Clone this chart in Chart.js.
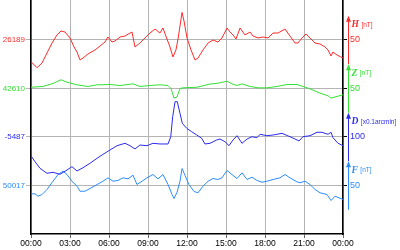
<!DOCTYPE html>
<html lang="en">
<head>
<meta charset="UTF-8">
<title>Geomagnetic variation H Z D F</title>
<script src="https://cdn.jsdelivr.net/npm/chart.js"></script>
<style>
    body { margin: 0; background: #fff; }
    canvas { display: block; }
</style>
</head>
<body>
<canvas id="magChart" width="400" height="250"></canvas>
<script>
// hours since 00:00 and readings for each component
const hTimes = [0,0.46,0.85,1.23,1.62,2.0,2.31,2.62,3.0,3.31,3.54,3.77,4.0,4.38,4.92,5.31,5.69,5.92,6.23,6.46,6.85,7.23,7.62,7.77,8.0,8.38,8.77,9.15,9.54,9.92,10.15,10.46,10.69,10.92,11.15,11.31,11.62,11.77,12.0,12.31,12.62,12.85,13.23,13.62,14.0,14.38,14.69,15.08,15.31,15.54,15.77,16.08,16.46,16.85,17.08,17.46,17.85,18.23,18.62,19.0,19.54,19.92,20.31,20.54,20.85,21.15,21.46,21.85,22.23,22.62,22.85,23.08,23.23,23.54,24.0];
const hValues = [26166.6,26160.4,26165.3,26175.6,26185.9,26194.2,26198.3,26197.2,26191.1,26181.8,26176.6,26168.4,26170.4,26174.6,26178.7,26182.8,26186.9,26192.1,26186.9,26188.0,26192.1,26193.1,26196.2,26197.2,26181.8,26185.9,26191.1,26196.2,26200.3,26196.2,26201.4,26190.0,26181.8,26171.5,26178.7,26190.0,26217.4,26208.6,26191.1,26178.7,26168.4,26170.4,26178.7,26185.9,26189.0,26186.9,26191.1,26201.4,26197.2,26194.2,26190.0,26201.4,26194.2,26197.2,26193.1,26191.1,26192.1,26191.1,26196.2,26196.2,26200.3,26193.1,26185.9,26185.9,26191.1,26195.2,26191.1,26185.9,26184.9,26181.8,26178.7,26172.5,26176.6,26173.5,26170.4];

const zTimes = [0,0.92,1.69,2.31,2.77,3.54,4.38,5.08,6.08,6.85,7.85,8.38,9.15,9.92,10.54,10.77,11.0,11.23,11.46,11.69,12.23,12.77,13.31,13.77,14.38,15.08,15.46,15.85,16.23,16.85,17.46,18.15,18.92,19.69,20.46,20.92,21.46,22.23,22.85,23.08,23.23,24.0];
const zValues = [42611.3,42612.1,42615.2,42619.0,42616.5,42613.8,42612.1,42613.8,42614.1,42613.1,42614.8,42612.1,42613.1,42613.8,42613.1,42610.0,42600.2,42601.2,42610.0,42610.7,42611.0,42611.3,42613.1,42614.6,42615.5,42617.5,42614.8,42613.1,42614.8,42612.1,42610.7,42610.7,42612.1,42614.1,42614.1,42612.1,42609.7,42605.2,42602.5,42600.0,42600.7,42603.5];

const dTimes = [0,0.31,0.69,1.23,1.69,2.23,2.77,3.15,3.54,4.0,4.54,5.08,5.54,6.08,6.62,7.23,7.62,8.0,8.38,8.92,9.38,9.92,10.54,10.75,10.9,11.08,11.25,11.46,11.64,11.98,12.36,12.75,13.13,13.38,13.77,14.28,14.54,14.92,15.23,15.54,15.85,16.23,16.62,17.0,17.38,17.62,18.15,18.62,19.31,19.92,20.31,20.62,20.92,21.46,22.0,22.38,22.85,23.08,23.23,23.62,24.0];
const dValues = [-5525.6,-5537.9,-5551.5,-5561.9,-5559.8,-5563.9,-5555.0,-5548.2,-5557.1,-5550.3,-5541.2,-5530.9,-5522.7,-5513.8,-5504.9,-5500.0,-5504.9,-5511.7,-5503.5,-5504.9,-5500.0,-5501.4,-5501.4,-5486.4,-5445.1,-5414.2,-5414.2,-5438.1,-5458.8,-5469.1,-5476.1,-5482.9,-5489.7,-5501.4,-5500.0,-5493.2,-5491.1,-5496.7,-5504.9,-5493.2,-5484.3,-5500.0,-5491.1,-5486.4,-5488.4,-5481.4,-5484.3,-5482.9,-5479.4,-5486.4,-5491.1,-5495.2,-5486.4,-5484.3,-5477.3,-5477.3,-5481.4,-5477.3,-5488.4,-5500.0,-5504.9];

const fTimes = [0,0.31,0.54,0.85,1.23,1.69,2.08,2.46,2.77,3.15,3.54,3.77,4.15,4.54,5.08,5.54,5.92,6.31,6.69,7.08,7.46,7.85,8.15,8.54,8.92,9.38,9.77,10.15,10.54,10.85,11.0,11.23,11.46,11.62,11.85,12.15,12.54,12.85,13.23,13.62,14.0,14.38,14.69,15.08,15.46,15.85,16.23,16.62,17.0,17.38,17.77,18.15,18.62,19.15,19.54,19.92,20.46,20.69,21.08,21.46,21.85,22.23,22.77,23.08,23.38,24.0];
const fValues = [50008.4,50008.4,50006.0,50007.7,50012.9,50021.4,50028.3,50031.7,50028.3,50021.4,50016.3,50011.1,50011.1,50013.9,50018.0,50021.4,50024.9,50021.4,50022.2,50024.9,50023.9,50027.6,50018.0,50021.4,50024.9,50028.3,50023.9,50028.3,50018.0,50007.7,50003.6,50009.8,50021.4,50034.5,50027.3,50018.0,50010.8,50009.5,50016.3,50021.4,50024.2,50023.2,50024.9,50032.5,50028.3,50024.2,50030.1,50023.2,50025.6,50022.2,50020.4,50021.4,50023.2,50024.9,50028.3,50024.9,50020.8,50019.8,50021.4,50018.0,50012.9,50009.5,50007.7,50001.5,50006.0,50002.6];

// order: H, Z, D, F (top to bottom)
const components = ['H', 'Z', 'D', 'F'];
const baseValues = [26189, 42610, -5487, 50017];
const scaleSteps = [50, 50, 100, 50];
const unitLabels = ['[nT]', '[nT]', '[x0.1arcmin]', '[nT]'];
const xTickLabels = ['00:00','03:00','06:00','09:00','12:00','15:00','18:00','21:00','00:00'];

const colors = ['#ff2a2a', '#33e033', '#2b2bf0', '#2a8cff'];
const SLOT_MAX = 234 / 48.5;   // grid rows in plot height
const FONT = '"Liberation Sans", Arial, sans-serif';

function slotOf(i) { return 4 - i; }

function pairs(ts, vs) {
    return ts.map((t, i) => ({ x: t, y: vs[i] }));
}

const series = [pairs(hTimes, hValues), pairs(zTimes, zValues), pairs(dTimes, dValues), pairs(fTimes, fValues)];

const scales = {
    x: {
        type: 'linear', min: 0, max: 24,
        afterBuildTicks: s => { s.ticks = xTickLabels.map((_, i) => ({ value: i * 3 })); },
        afterFit: s => { s.height = 16; s.paddingLeft = 0; s.paddingRight = 0; },
        ticks: {
            callback: (v, i) => xTickLabels[i],
            color: '#000', font: { family: FONT, size: 8.5 }, padding: 1, maxRotation: 0, autoSkip: false
        },
        grid: { color: '#b4b4b4', lineWidth: 1, tickLength: 4, tickColor: '#666' },
        border: { color: '#000', width: 1.5 }
    },
    y: {
        position: 'left', min: 0, max: SLOT_MAX,
        afterBuildTicks: s => { s.ticks = [1, 2, 3, 4].map(v => ({ value: v })); },
        afterFit: s => { s.width = 31; s.paddingTop = 0; s.paddingBottom = 0; },
        ticks: {
            callback: v => String(baseValues[4 - v]),
            color: c => colors[4 - c.tick.value],
            font: { family: FONT, size: 8 }, padding: 1
        },
        grid: { color: '#b4b4b4', lineWidth: 1, tickLength: 5 },
        border: { color: '#000', width: 1.5 }
    },
    yr: {
        position: 'right', min: 0, max: SLOT_MAX,
        afterBuildTicks: s => { s.ticks = [1, 2, 3, 4].map(v => ({ value: v })); },
        afterFit: s => { s.width = 57; s.paddingTop = 0; s.paddingBottom = 0; },
        ticks: {
            callback: v => String(scaleSteps[4 - v]),
            color: c => colors[4 - c.tick.value],
            font: { family: FONT, size: 9 }, padding: 3
        },
        grid: { drawOnChartArea: false, tickLength: 4, color: '#000' },
        border: { color: '#000', width: 1.5 }
    }
};

// one hidden axis per component so each trace keeps its own units
components.forEach((c, i) => {
    const min = baseValues[i] - slotOf(i) * scaleSteps[i];
    scales['y' + c] = { display: false, min: min, max: min + SLOT_MAX * scaleSteps[i] };
});

const sideLabels = {
    id: 'sideLabels',
    afterDraw(chart) {
        const c = chart.ctx;
        const ys = chart.scales.y;
        const x0 = chart.chartArea.right + 5.5;
        const half = (ys.getPixelForValue(0) - ys.getPixelForValue(1)) / 2;
        components.forEach((name, i) => {
            const yc = ys.getPixelForValue(slotOf(i));
            c.save();
            c.strokeStyle = colors[i];
            c.fillStyle = colors[i];
            c.lineWidth = 1;
            c.beginPath();
            c.moveTo(x0, yc + half);
            c.lineTo(x0, yc - half + 3);
            c.stroke();
            c.beginPath();
            c.moveTo(x0, yc - half);
            c.lineTo(x0 - 2.5, yc - half + 6);
            c.lineTo(x0 + 2.5, yc - half + 6);
            c.closePath();
            c.fill();
            c.textBaseline = 'middle';
            c.font = 'bold italic 9.5px "Liberation Serif", serif';
            c.fillText(name, x0 + 3, yc - 15);
            const w = c.measureText(name).width;
            c.font = '6.5px ' + FONT;
            c.fillText(unitLabels[i], x0 + 4 + w + 1.5, yc - 15);
            c.restore();
        });
    }
};

new Chart(document.getElementById('magChart'), {
    type: 'line',
    data: {
        datasets: components.map((c, i) => ({
            label: c,
            data: series[i],
            yAxisID: 'y' + c,
            borderColor: colors[i],
            borderWidth: 1,
            pointRadius: 0,
            tension: 0,
            fill: false
        }))
    },
    options: {
        responsive: false,
        animation: false,
        layout: { padding: 0 },
        plugins: { legend: { display: false }, tooltip: { enabled: false } },
        scales: scales
    },
    plugins: [sideLabels]
});
</script>
</body>
</html>
